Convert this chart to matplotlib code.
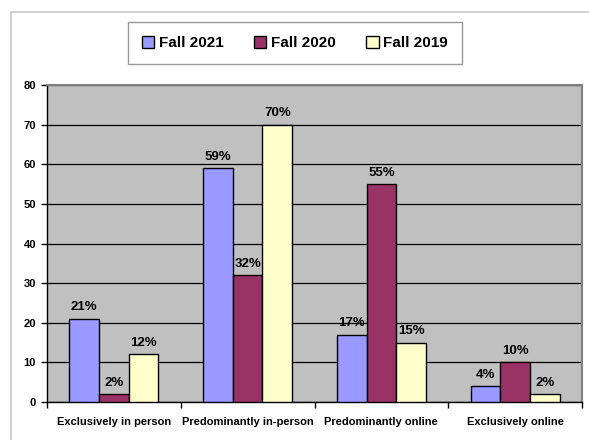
import matplotlib

matplotlib.use("Agg")
import matplotlib.pyplot as plt
import numpy as np
from matplotlib.patches import Rectangle

categories = ["Exclusively in person", "Predominantly in-person",
              "Predominantly online", "Exclusively online"]
series = ["Fall 2021", "Fall 2020", "Fall 2019"]
fall_2021 = [21, 59, 17, 4]
fall_2020 = [2, 32, 55, 10]
fall_2019 = [12, 70, 15, 2]
colors = ["#9999FF", "#993366", "#FFFFCC"]
yticks = [0, 10, 20, 30, 40, 50, 60, 70, 80]

plt.rcParams["font.family"] = ["Liberation Sans", "DejaVu Sans"]

fig = plt.figure(figsize=(5.89, 4.4), dpi=100)
fig.patches.append(Rectangle((11 / 589, -0.05), 1.0, 1 - 12 / 440 + 0.05,
                             transform=fig.transFigure, fill=False,
                             edgecolor="#C8C8C8", linewidth=1.2))

ax = fig.add_axes([47 / 589, 1 - 402 / 440, 535 / 589, 317 / 440])
ax.set_facecolor("#C0C0C0")

x = np.arange(len(categories))
width = 0.222
offsets = [-width, 0, width]
values = [fall_2021, fall_2020, fall_2019]
for vals, off, color, name in zip(values, offsets, colors, series):
    bars = ax.bar(x + off, vals, width, color=color, edgecolor="black",
                  linewidth=1.0, label=name, zorder=3)
    for bar, v in zip(bars, vals):
        ax.annotate(f"{v}%", (bar.get_x() + bar.get_width() / 2, v),
                    xytext=(0, 4), textcoords="offset points",
                    ha="center", va="bottom", fontsize=9.5, fontweight="bold")

ax.set_xlim(-0.5, len(categories) - 0.5)
ax.set_ylim(0, 80)
ax.set_yticks(yticks)
ax.set_yticklabels([str(t) for t in yticks], fontsize=8, fontweight="bold")
ax.yaxis.grid(True, color="black", linewidth=0.9, zorder=0)
ax.set_axisbelow(True)

ax.set_xticks(np.arange(len(categories) + 1) - 0.5, minor=False)
ax.set_xticklabels([])
ax.set_xticks(x, minor=True)
ax.set_xticklabels(categories, minor=True, fontsize=8, fontweight="bold")
ax.tick_params(axis="x", which="minor", length=0, pad=11)
ax.tick_params(axis="x", which="major", length=4, direction="out", width=1)
ax.tick_params(axis="y", length=4, width=1, pad=4)

for side in ("top", "right"):
    ax.spines[side].set_color("#808080")
    ax.spines[side].set_linewidth(1.5)
for side in ("left", "bottom"):
    ax.spines[side].set_color("black")
    ax.spines[side].set_linewidth(1.0)

leg = fig.legend(loc="center", bbox_to_anchor=(295 / 589, 1 - 43 / 440),
                 ncol=3, frameon=True, fancybox=False, handlelength=0.8,
                 handleheight=0.8, handletextpad=0.3, columnspacing=2.0,
                 borderpad=0.9,
                 prop={"size": 11, "weight": "bold"})
leg.get_frame().set_edgecolor("#808080")
leg.get_frame().set_linewidth(1.0)

fig.savefig("out.png", dpi=100)
